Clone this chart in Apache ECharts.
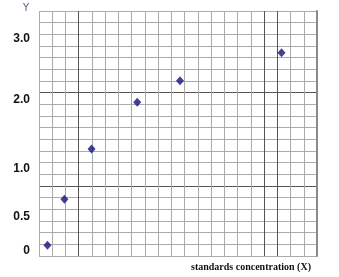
<!DOCTYPE html>
<html>
<head>
<meta charset="utf-8">
<script src="https://cdn.jsdelivr.net/npm/echarts@6/dist/echarts.min.js"></script>
<style>html,body{margin:0;padding:0;background:#fff}#c{width:339px;height:277px}</style>
</head>
<body>
<div id="c"></div>
<script>
// Axis extents in grid squares (21 x 21)
var xMax = 21;
var yMax = 21;
// Data points (grid-square units)
var xValues = [0.64, 1.92, 3.97, 7.42, 10.65, 18.32];
var yValues = [0.92, 4.87, 9.18, 13.17, 15.02, 17.42];
// Y tick labels and where they sit on the axis
var yTickLabels = ['0', '0.5', '1.0', '2.0', '3.0'];
var yTickAt = [0.43, 3.35, 7.5, 13.36, 18.66];
// Heavier grid lines
var xDarkLines = [3, 17, 18];
var yDarkLines = [6, 14];
var yTitle = 'Y';
var xTitle = 'standards concentration (X)';

var light = '#ababab', dark = '#555555';
function lineColors(n, darkList) {
  var arr = [];
  for (var i = 0; i <= n; i++) arr.push(darkList.indexOf(i) >= 0 ? dark : light);
  return arr;
}
var points = xValues.map(function (x, i) { return [x, yValues[i]]; });

var chart = echarts.init(document.getElementById('c'), null, {renderer: 'canvas'});
chart.setOption({
  animation: false,
  backgroundColor: '#fff',
  title: [
    {text: yTitle, left: 18, top: -2, textStyle: {fontFamily: 'DejaVu Sans', fontSize: 10, fontWeight: 'normal', color: '#5a5f86'}},
    {text: xTitle, right: 23, top: 257, textStyle: {fontFamily: 'Liberation Serif', fontSize: 10, fontWeight: 'bold', color: '#111'}}
  ],
  grid: {left: 39, right: 22, top: 11, bottom: 21, containLabel: false},
  xAxis: {
    type: 'value', min: 0, max: xMax, interval: 1,
    axisLine: {show: false}, axisTick: {show: false}, axisLabel: {show: false},
    splitLine: {show: true, showMinLine: true, showMaxLine: false, lineStyle: {width: 1, color: lineColors(xMax, xDarkLines)}}
  },
  yAxis: [{
    type: 'value', min: 0, max: yMax, interval: 1,
    axisLine: {show: false}, axisTick: {show: false},
    axisLabel: {
      show: true, customValues: yTickAt, margin: 9,
      fontFamily: 'Liberation Sans', fontSize: 12, fontWeight: 'bold', color: '#111',
      formatter: function (v) {
        for (var i = 0; i < yTickAt.length; i++) if (Math.abs(yTickAt[i] - v) < 1e-6) return yTickLabels[i];
        return '';
      }
    },
    splitLine: {show: true, showMinLine: true, showMaxLine: true, lineStyle: {width: 1, color: lineColors(yMax, yDarkLines)}}
  }, {
    type: 'value', min: 0, max: yMax, position: 'right',
    axisLine: {show: true, lineStyle: {color: '#8a8a8a', width: 2}},
    axisTick: {show: false}, axisLabel: {show: false}, splitLine: {show: false}
  }],
  series: [{
    type: 'scatter', data: points, symbol: 'diamond', symbolSize: [8, 9],
    itemStyle: {color: '#12127e'}
  }]
});
</script>
</body>
</html>
